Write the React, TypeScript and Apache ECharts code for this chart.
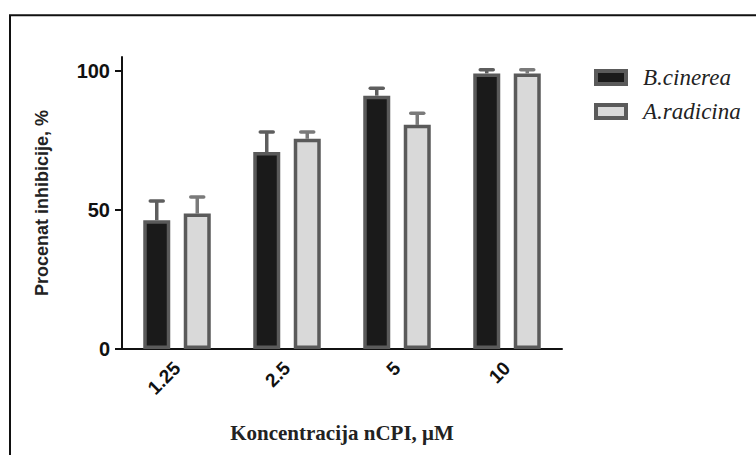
import React, { useEffect, useRef } from "react";
import * as echarts from "echarts";

const categories = ["1.25", "2.5", "5", "10"];
const seriesNames = ["B.cinerea", "A.radicina"];
const bcinereaMean = [46.3, 70.8, 91.1, 99.1];
const bcinereaErr = [6.9, 7.2, 2.7, 1.3];
const aradicinaMean = [48.7, 75.6, 80.6, 99.1];
const aradicinaErr = [6.0, 2.4, 4.2, 1.3];
const yTicks = [0, 50, 100];

const BAR_W = 27;
const BAR_GAP = 13.5;

export default function App() {
  const ref = useRef<HTMLDivElement>(null);
  useEffect(() => {
    if (!ref.current) return;
    const chart = echarts.init(ref.current, null, { renderer: "svg" });
    const offset = (BAR_W + BAR_GAP) / 2;
    const errSeries = (name: string, means: number[], errs: number[], dir: number, color: string) => ({
      type: "custom",
      name: name + "_err",
      z: 1,
      silent: true,
      data: means.map((m, i) => [i, m, errs[i]]),
      encode: { x: 0, y: 1 },
      renderItem: (params: any, api: any) => {
        const c = api.value(0);
        const v = api.value(1);
        const e = api.value(2);
        const p0 = api.coord([c, v]);
        const p1 = api.coord([c, v + e]);
        const x = p0[0] + dir * offset;
        return {
          type: "group",
          children: [
            { type: "line", shape: { x1: x, y1: p0[1], x2: x, y2: p1[1] }, style: { stroke: color, lineWidth: 3.5 } },
            { type: "line", shape: { x1: x - 6.5, y1: p1[1], x2: x + 6.5, y2: p1[1] }, style: { stroke: color, lineWidth: 3.5, lineCap: "round" } },
          ],
        };
      },
    });
    chart.setOption({
      animation: false,
      backgroundColor: "#ffffff",
      graphic: [
        {
          type: "rect",
          shape: { x: 10, y: 15.3, width: 800, height: 500 },
          style: { fill: "none", stroke: "#111", lineWidth: 2 },
          z: 0,
        },
      ],
      grid: { left: 122, right: 194, top: 57, bottom: 106 },
      legend: {
        left: 589,
        top: 61,
        orient: "vertical",
        icon: "rect",
        itemWidth: 30,
        itemHeight: 13,
        itemGap: 11,
        data: seriesNames,
        itemStyle: { borderWidth: 4, borderColor: "#5a5a5a" },
        textStyle: {
          fontFamily: "Liberation Serif",
          fontStyle: "italic",
          fontSize: 23,
          color: "#222",
          padding: [0, 0, 0, 12],
          lineHeight: 21,
        },
      },
      xAxis: {
        type: "category",
        data: categories,
        name: "Koncentracija nCPI, μM",
        nameLocation: "middle",
        nameGap: 73,
        nameTextStyle: { fontFamily: "Liberation Serif", fontWeight: "bold", fontSize: 21, color: "#222" },
        axisLine: { lineStyle: { color: "#111", width: 2 } },
        axisTick: { alignWithLabel: true, length: 6, lineStyle: { color: "#111", width: 2 } },
        axisLabel: {
          rotate: 45,
          margin: 16,
          fontFamily: "Liberation Sans",
          fontWeight: "bold",
          fontSize: 19,
          color: "#111",
        },
      },
      yAxis: {
        type: "value",
        min: 0,
        max: 105,
        interval: 50,
        name: "Procenat inhibicije, %",
        nameLocation: "middle",
        nameGap: 71,
        nameTextStyle: { fontFamily: "Liberation Sans", fontWeight: "bold", fontSize: 18, color: "#222" },
        splitLine: { show: false },
        axisLine: { show: true, lineStyle: { color: "#111", width: 2 } },
        axisTick: { show: true, length: 7, customValues: yTicks, lineStyle: { color: "#111", width: 2 } },
        axisLabel: {
          customValues: yTicks,
          margin: 12,
          fontFamily: "Liberation Sans",
          fontWeight: "bold",
          fontSize: 20,
          color: "#111",
        },
      },
      series: [
        errSeries(seriesNames[0], bcinereaMean, bcinereaErr, -1, "#5e5e5e"),
        errSeries(seriesNames[1], aradicinaMean, aradicinaErr, 1, "#7a7a7a"),
        {
          type: "bar",
          name: seriesNames[0],
          z: 2,
          data: bcinereaMean,
          barWidth: BAR_W,
          barGap: "50%",
          itemStyle: { color: "#1a1a1a", borderColor: "#5a5a5a", borderWidth: 3.5 },
        },
        {
          type: "bar",
          name: seriesNames[1],
          z: 2,
          data: aradicinaMean,
          barWidth: BAR_W,
          barGap: "50%",
          itemStyle: { color: "#d9d9d9", borderColor: "#5a5a5a", borderWidth: 3.5 },
        },
      ],
    });
    return () => chart.dispose();
  }, []);
  return <div ref={ref} style={{ position: "fixed", left: 0, top: 0, width: 756, height: 455 }} />;
}
